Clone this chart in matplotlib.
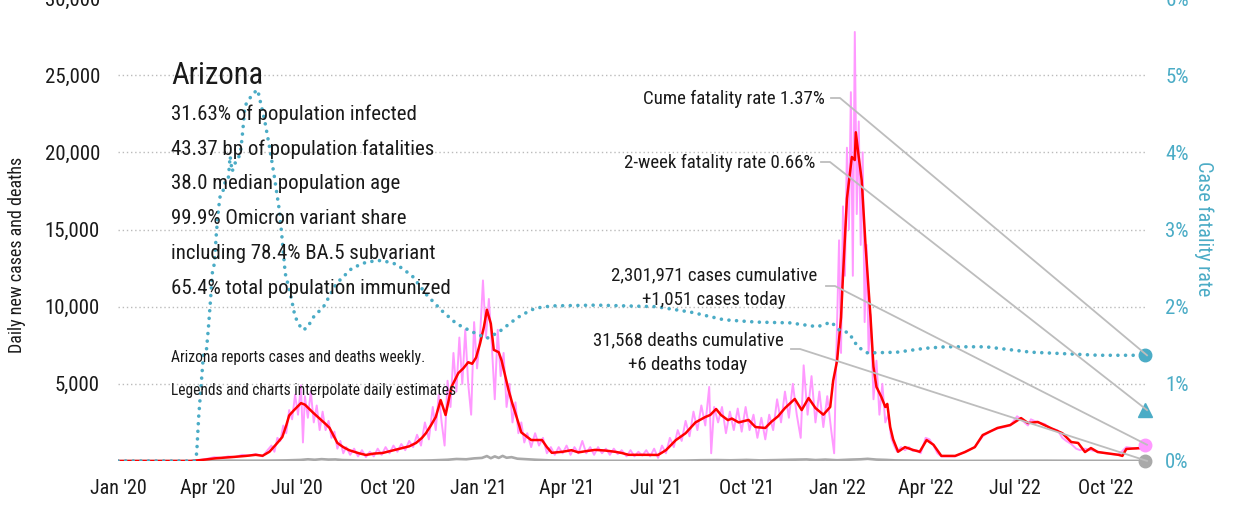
import matplotlib
matplotlib.use("Agg")
import matplotlib.pyplot as plt
import pandas as pd
from matplotlib import font_manager as fm

# ---------------- data ----------------
cases_avg = [("2020-01-01",0),("2020-03-15",0),("2020-03-25",60),("2020-04-10",180),("2020-04-25",250),
    ("2020-05-10",330),("2020-05-20",400),("2020-05-27",340),("2020-06-03",600),("2020-06-10",1100),
    ("2020-06-16",1550),("2020-06-20",2300),("2020-06-23",2950),("2020-06-28",3300),("2020-07-05",3750),
    ("2020-07-09",3650),("2020-07-13",3400),("2020-07-17",3150),("2020-07-24",2750),("2020-07-30",2400),
    ("2020-08-03",2150),("2020-08-11",1170),("2020-08-17",900),("2020-08-23",700),("2020-09-02",500),
    ("2020-09-09",390),("2020-09-17",480),("2020-09-26",520),("2020-10-06",680),("2020-10-16",840),
    ("2020-10-23",950),("2020-10-30",1170),("2020-11-05",1500),("2020-11-09",1800),("2020-11-14",2300),
    ("2020-11-19",2850),("2020-11-24",3950),("2020-11-29",2980),("2020-12-05",4800),("2020-12-12",5700),
    ("2020-12-17",6000),("2020-12-22",6400),("2020-12-26",6300),("2020-12-30",6700),("2021-01-03",7600),
    ("2021-01-07",8700),("2021-01-10",9800),("2021-01-14",8900),("2021-01-17",7200),("2021-01-22",7050),
    ("2021-01-25",6500),("2021-02-01",4600),("2021-02-05",3700),("2021-02-08",3100),("2021-02-14",1850),
    ("2021-02-24",1360),("2021-03-07",1360),("2021-03-12",900),("2021-03-17",530),("2021-03-28",600),
    ("2021-04-06",700),("2021-04-13",560),("2021-04-22",650),("2021-04-30",720),("2021-05-10",680),
    ("2021-05-20",600),("2021-05-27",520),("2021-06-03",400),("2021-06-20",400),("2021-07-03",390),
    ("2021-07-11",700),("2021-07-21",1350),("2021-07-31",1800),("2021-08-10",2500),("2021-08-20",2850),
    ("2021-08-25",2980),("2021-08-31",3370),("2021-09-05",2980),("2021-09-12",2650),("2021-09-16",2750),
    ("2021-09-23",2500),("2021-10-03",2660),("2021-10-10",2200),("2021-10-20",2140),("2021-10-26",2530),
    ("2021-11-02",2900),("2021-11-09",3430),("2021-11-19",4020),("2021-11-26",3300),("2021-12-03",4080),
    ("2021-12-10",3430),("2021-12-18",3000),("2021-12-25",3500),("2021-12-28",5200),("2022-01-01",6500),
    ("2022-01-05",9300),("2022-01-07",12000),("2022-01-11",17000),("2022-01-16",19700),("2022-01-19",19500),
    ("2022-01-20",21300),("2022-01-23",19700),("2022-01-26",18200),("2022-01-30",13900),("2022-02-04",9300),
    ("2022-02-07",6100),("2022-02-10",4800),("2022-02-15",4150),("2022-02-19",3500),("2022-02-21",3700),
    ("2022-02-24",2200),("2022-02-27",1400),("2022-03-04",600),("2022-03-11",900),("2022-03-19",720),
    ("2022-03-26",600),("2022-04-02",1360),("2022-04-09",1050),("2022-04-17",330),("2022-05-01",330),
    ("2022-05-11",580),("2022-05-21",900),("2022-05-29",1680),("2022-06-13",2140),("2022-06-26",2330),
    ("2022-07-07",2780),("2022-07-14",2460),("2022-07-24",2530),("2022-08-06",2140),("2022-08-18",1800),
    ("2022-08-27",1230),("2022-09-03",1170),("2022-09-10",580),("2022-09-16",840),("2022-09-23",580),
    ("2022-10-14",400),("2022-10-18",330),("2022-10-22",780),("2022-11-06",840),("2022-11-10",1051)]

cases_raw = [("2020-01-01",0),("2020-03-15",0),("2020-03-25",80),("2020-04-01",150),("2020-04-08",250),
    ("2020-04-15",200),("2020-04-22",300),("2020-04-29",250),("2020-05-06",400),("2020-05-13",350),
    ("2020-05-20",450),("2020-05-27",300),("2020-06-01",700),("2020-06-05",1000),("2020-06-08",600),
    ("2020-06-11",1500),("2020-06-14",1300),("2020-06-17",2300),("2020-06-20",1800),("2020-06-23",3300),
    ("2020-06-26",2700),("2020-06-29",4300),("2020-07-02",3000),("2020-07-05",4900),("2020-07-07",1200),
    ("2020-07-09",4200),("2020-07-12",2800),("2020-07-15",4500),("2020-07-18",2500),("2020-07-21",3600),
    ("2020-07-24",2000),("2020-07-27",3200),("2020-07-30",2000),("2020-08-02",2600),("2020-08-05",1500),
    ("2020-08-08",1900),("2020-08-11",800),("2020-08-14",1300),("2020-08-17",500),("2020-08-20",900),
    ("2020-08-24",400),("2020-08-28",800),("2020-09-01",300),("2020-09-05",700),("2020-09-09",250),
    ("2020-09-13",600),("2020-09-17",300),("2020-09-21",800),("2020-09-25",400),("2020-09-29",900),
    ("2020-10-03",500),("2020-10-07",1000),("2020-10-11",600),("2020-10-15",1100),("2020-10-19",700),
    ("2020-10-23",1300),("2020-10-27",900),("2020-10-31",1700),("2020-11-04",1000),("2020-11-08",2500),
    ("2020-11-12",1400),("2020-11-16",3500),("2020-11-19",2000),("2020-11-22",4300),("2020-11-25",2500),
    ("2020-11-28",1000),("2020-12-01",5200),("2020-12-04",3500),("2020-12-07",7000),("2020-12-10",4500),
    ("2020-12-13",8000),("2020-12-16",5000),("2020-12-19",8500),("2020-12-22",5000),("2020-12-25",3000),
    ("2020-12-28",9000),("2020-12-31",6000),("2021-01-03",8000),("2021-01-06",11700),("2021-01-09",8000),
    ("2021-01-12",10500),("2021-01-15",7500),("2021-01-18",4000),("2021-01-21",8500),("2021-01-24",5500),
    ("2021-01-27",7000),("2021-01-30",3500),("2021-02-02",5000),("2021-02-05",2500),("2021-02-08",3800),
    ("2021-02-11",1800),("2021-02-14",2500),("2021-02-17",1200),("2021-02-20",1800),("2021-02-24",900),
    ("2021-02-28",1800),("2021-03-04",1000),("2021-03-08",1500),("2021-03-12",500),("2021-03-16",900),
    ("2021-03-20",400),("2021-03-24",900),("2021-03-28",500),("2021-04-01",1000),("2021-04-05",400),
    ("2021-04-09",900),("2021-04-13",500),("2021-04-17",1300),("2021-04-21",500),("2021-04-25",900),
    ("2021-04-29",400),("2021-05-03",900),("2021-05-07",500),("2021-05-11",800),("2021-05-15",400),
    ("2021-05-19",800),("2021-05-23",450),("2021-05-27",700),("2021-06-01",300),("2021-06-05",700),
    ("2021-06-09",300),("2021-06-13",600),("2021-06-17",350),("2021-06-21",700),("2021-06-25",300),
    ("2021-06-29",800),("2021-07-03",200),("2021-07-07",1000),("2021-07-11",500),("2021-07-15",1500),
    ("2021-07-19",900),("2021-07-23",2000),("2021-07-27",1300),("2021-07-31",2600),("2021-08-04",1600),
    ("2021-08-08",3200),("2021-08-12",2000),("2021-08-16",3600),("2021-08-20",2300),("2021-08-24",4800),
    ("2021-08-26",500),("2021-08-29",3500),("2021-09-02",2500),("2021-09-06",3500),("2021-09-10",1800),
    ("2021-09-14",3200),("2021-09-18",2000),("2021-09-22",3400),("2021-09-26",1900),("2021-09-30",3500),
    ("2021-10-04",2000),("2021-10-08",3000),("2021-10-12",1500),("2021-10-16",2800),("2021-10-20",1400),
    ("2021-10-24",3000),("2021-10-28",2000),("2021-11-01",4000),("2021-11-05",2500),("2021-11-09",4500),
    ("2021-11-13",2800),("2021-11-17",5000),("2021-11-21",3000),("2021-11-25",1500),("2021-11-28",6200),
    ("2021-12-02",3000),("2021-12-06",5500),("2021-12-10",2500),("2021-12-14",4500),("2021-12-18",2200),
    ("2021-12-22",4200),("2021-12-26",2000),("2021-12-29",500),("2022-01-01",9000),("2022-01-03",14300),
    ("2022-01-05",7000),("2022-01-07",16500),("2022-01-09",12000),("2022-01-11",20300),("2022-01-13",15000),
    ("2022-01-15",23900),("2022-01-17",12000),("2022-01-19",27800),("2022-01-21",16000),("2022-01-23",22000),
    ("2022-01-25",14000),("2022-01-27",20000),("2022-01-29",9000),("2022-01-31",14000),("2022-02-02",7000),
    ("2022-02-04",9500),("2022-02-07",4000),("2022-02-10",6500),("2022-02-13",3000),("2022-02-16",5000),
    ("2022-02-19",2500),("2022-02-22",3000),("2022-02-25",1500),("2022-02-28",1000),("2022-03-03",600),
    ("2022-03-07",900),("2022-03-11",700),("2022-03-15",900),("2022-03-19",650),("2022-03-23",700),
    ("2022-03-27",500),("2022-04-01",1500),("2022-04-05",1400),("2022-04-09",1000),("2022-04-13",500),
    ("2022-04-17",300),("2022-05-01",300),("2022-05-11",600),("2022-05-21",900),("2022-05-29",1600),
    ("2022-06-05",1900),("2022-06-13",2100),("2022-06-20",2200),("2022-06-26",2300),("2022-07-03",2900),
    ("2022-07-07",2700),("2022-07-14",2300),("2022-07-17",2700),("2022-07-24",2500),("2022-07-31",2400),
    ("2022-08-06",2100),("2022-08-13",2000),("2022-08-18",1500),("2022-08-22",1300),("2022-08-27",1100),
    ("2022-09-01",800),("2022-09-05",700),("2022-09-10",800),("2022-09-16",700),("2022-09-23",600),
    ("2022-10-01",500),("2022-10-14",400),("2022-10-22",900),("2022-11-01",800),("2022-11-06",850),
    ("2022-11-10",1051)]

deaths = [("2020-01-01",0),("2020-03-20",0),("2020-04-05",15),("2020-04-20",25),("2020-05-10",20),
    ("2020-06-01",25),("2020-06-20",40),("2020-07-05",70),("2020-07-12",110),("2020-07-19",80),
    ("2020-07-26",120),("2020-08-02",90),("2020-08-09",100),("2020-08-16",60),("2020-08-23",50),
    ("2020-09-01",30),("2020-09-15",20),("2020-10-01",15),("2020-10-15",20),("2020-11-01",25),
    ("2020-11-15",40),("2020-12-01",80),("2020-12-10",130),("2020-12-20",110),("2020-12-28",170),
    ("2021-01-05",200),("2021-01-10",320),("2021-01-14",180),("2021-01-18",300),("2021-01-22",200),
    ("2021-01-26",330),("2021-01-30",210),("2021-02-04",250),("2021-02-10",150),("2021-02-18",120),
    ("2021-03-01",80),("2021-03-15",40),("2021-04-01",20),("2021-05-01",15),("2021-06-01",12),
    ("2021-07-01",15),("2021-08-01",30),("2021-08-15",50),("2021-09-01",60),("2021-09-15",45),
    ("2021-10-01",70),("2021-10-15",40),("2021-11-01",60),("2021-11-15",80),("2021-12-01",100),
    ("2021-12-10",60),("2021-12-20",90),("2022-01-01",50),("2022-01-15",90),("2022-01-25",110),
    ("2022-02-01",140),("2022-02-10",90),("2022-02-20",70),("2022-03-01",40),("2022-03-15",30),
    ("2022-04-01",15),("2022-05-01",8),("2022-06-01",10),("2022-07-01",15),("2022-08-01",20),
    ("2022-09-01",15),("2022-10-01",10),("2022-11-10",6)]

fatality_rate = [("2020-01-01",0),("2020-03-19",0),("2020-03-21",0.1),("2020-03-23",0.57),("2020-03-28",1.40),
    ("2020-03-31",1.45),("2020-04-02",1.74),("2020-04-04",2.08),("2020-04-06",2.45),("2020-04-08",2.56),
    ("2020-04-10",2.95),("2020-04-12",3.25),("2020-04-14",3.45),("2020-04-17",3.51),("2020-04-19",3.62),
    ("2020-04-22",3.64),("2020-04-24",3.95),("2020-04-26",3.75),("2020-04-29",3.86),("2020-05-02",3.90),
    ("2020-05-05",4.05),("2020-05-07",4.30),("2020-05-09",4.60),("2020-05-15",4.72),("2020-05-19",4.78),
    ("2020-05-22",4.81),("2020-05-25",4.64),("2020-05-29",4.42),("2020-06-03",4.07),("2020-06-08",3.68),
    ("2020-06-13",3.25),("2020-06-16",2.86),("2020-06-19",2.43),("2020-06-24",2.18),("2020-06-29",1.87),
    ("2020-07-06",1.70),("2020-07-11",1.72),("2020-07-18",1.87),("2020-07-28",2.0),("2020-08-10",2.3),
    ("2020-08-26",2.5),("2020-09-10",2.58),("2020-09-25",2.60),("2020-10-10",2.55),("2020-10-26",2.40),
    ("2020-11-10",2.15),("2020-11-25",1.95),("2020-12-10",1.78),("2020-12-25",1.68),("2021-01-10",1.59),
    ("2021-01-22",1.67),("2021-02-04",1.80),("2021-02-14",1.89),("2021-02-28",1.98),("2021-03-17",2.01),
    ("2021-05-01",2.02),("2021-07-01",2.00),("2021-08-05",1.93),("2021-09-08",1.83),("2021-10-11",1.80),
    ("2021-11-14",1.79),("2021-12-12",1.74),("2021-12-26",1.80),("2022-01-03",1.70),("2022-01-13",1.66),
    ("2022-01-22",1.48),("2022-02-01",1.40),("2022-03-03",1.41),("2022-03-31",1.46),("2022-04-21",1.48),
    ("2022-06-01",1.48),("2022-07-17",1.41),("2022-08-21",1.39),("2022-09-24",1.37),("2022-11-10",1.37)]

last_date = "2022-11-10"
cume_rate = 1.37
two_week_rate = 0.66
cases_today = 1051
deaths_today = 6

title = "Arizona"
stats_lines = ["31.63% of population infected", "43.37 bp of population fatalities",
               "38.0 median population age", "99.9% Omicron variant share",
               "including 78.4% BA.5 subvariant", "65.4% total population immunized"]
note_lines = ["Arizona reports cases and deaths weekly.",
              "Legends and charts interpolate daily estimates"]
left_ticks = [5000, 10000, 15000, 20000, 25000, 30000]
right_ticks = [0, 1, 2, 3, 4, 5, 6]
x_tick_dates = ["2020-01-01","2020-04-01","2020-07-01","2020-10-01","2021-01-01","2021-04-01",
                "2021-07-01","2021-10-01","2022-01-01","2022-04-01","2022-07-01","2022-10-01"]
x_tick_labels = ["Jan '20","Apr '20","Jul '20","Oct '20","Jan '21","Apr '21",
                 "Jul '21","Oct '21","Jan '22","Apr '22","Jul '22","Oct '22"]

# ---------------- style ----------------
avail = {f.name for f in fm.fontManager.ttflist}
FONT = "DejaVu Sans"
for cand in ["Liberation Sans Narrow", "Roboto Condensed", "DejaVu Sans Condensed", "Liberation Sans"]:
    if cand in avail:
        FONT = cand
        break
plt.rcParams["font.family"] = [FONT, "DejaVu Sans"]

PINK = "#FF99FF"
RED = "#FF0000"
GRAY = "#A9A9A9"
TEAL = "#4BACC6"
TXT = "#1a1a1a"
LEAD = "#BDBDBD"

def series(pairs):
    d = pd.to_datetime([p[0] for p in pairs])
    v = [p[1] for p in pairs]
    return d, v

W, H = 1233, 508
fig = plt.figure(figsize=(W / 100, H / 100), dpi=100)
ax = fig.add_axes([118 / W, 47 / H, 1027 / W, 463 / H])
ax2 = ax.twinx()

x0 = pd.Timestamp("2020-01-01")
x1 = pd.Timestamp(last_date)
ax.set_xlim(x0, x1)
ax.set_ylim(0, 30000)
ax2.set_ylim(0, 6)

for s in list(ax.spines.values()) + list(ax2.spines.values()):
    s.set_visible(False)

for t in left_ticks:
    ax.axhline(t, color="#BBBBBB", lw=1.0, ls=(0, (1, 2)), zorder=0)

d, v = series(cases_raw)
ax.plot(d, v, color=PINK, lw=1.4, zorder=2)
d, v = series(deaths)
ax.plot(d, v, color=GRAY, lw=1.9, zorder=2)
d, v = series(cases_avg)
ax.plot(d, v, color=RED, lw=1.8, zorder=3)

d, v = series(fatality_rate)
ax2.plot(d, v, color=TEAL, lw=2.6, ls=(0, (0.01, 2.1)), dash_capstyle="round", zorder=3)

# end markers
ax2.plot([x1], [cume_rate], "o", color=TEAL, ms=9, clip_on=False, zorder=5)
ax2.plot([x1], [two_week_rate], "^", color=TEAL, ms=10, clip_on=False, zorder=5)
ax.plot([x1], [cases_today], "o", color=PINK, ms=9, clip_on=False, zorder=5)
ax.plot([x1], [deaths_today], "o", color=GRAY, ms=9, clip_on=False, zorder=5)

# ticks
ax.set_yticks(left_ticks)
ax.set_yticklabels([f"{t:,}" for t in left_ticks])
ax.tick_params(axis="y", length=0, pad=13, labelsize=15, labelcolor=TXT)
ax2.set_yticks(right_ticks)
ax2.set_yticklabels([f"{t}%" for t in right_ticks])
ax2.tick_params(axis="y", length=0, pad=14.5, labelsize=15, labelcolor=TEAL)
ax.set_xticks(pd.to_datetime(x_tick_dates))
ax.set_xticklabels(x_tick_labels)
ax.tick_params(axis="x", length=0, pad=13, labelsize=14.5, labelcolor=TXT)

def fx(px):
    return px / W

def fy(py):
    return 1 - py / H

fig.text(fx(17), fy(255), "Daily new cases and deaths", rotation=90, ha="center", va="center",
         fontsize=13, color=TXT)
fig.text(fx(1204), fy(229), "Case fatality rate", rotation=270, ha="center", va="center",
         fontsize=14.5, color=TEAL)

# info block
fig.text(fx(171), fy(84), title, fontsize=22, color=TXT, ha="left", va="baseline")
for i, line in enumerate(stats_lines):
    fig.text(fx(171), fy(120 + 34.7 * i), line, fontsize=15, color=TXT, ha="left", va="baseline")
for i, line in enumerate(note_lines):
    fig.text(fx(171), fy(362 + 33 * i), line, fontsize=11.2, color=TXT, ha="left", va="baseline")

# annotations with leader lines
def leader(px_from, py_from, px_end, py_end):
    fig.add_artist(plt.Line2D([fx(px_from), fx(px_from + 9), fx(px_end)],
                              [fy(py_from), fy(py_from), fy(py_end)],
                              color=LEAD, lw=1.3, zorder=1))

def y_of(val, right=False):
    return 461 - (val / 6 * 463 if right else val / 30000 * 463)

ANN = 13.6
fig.text(fx(825), fy(99), f"Cume fatality rate {cume_rate:.2f}%", fontsize=ANN, color=TXT,
         ha="right", va="center")
leader(831, 98, 1147, y_of(cume_rate, True))
fig.text(fx(815), fy(163), f"2-week fatality rate {two_week_rate:.2f}%", fontsize=ANN, color=TXT,
         ha="right", va="center")
leader(821, 162, 1147, y_of(two_week_rate, True))
fig.text(fx(714), fy(275), "2,301,971 cases cumulative", fontsize=ANN, color=TXT, ha="center", va="center")
fig.text(fx(714), fy(300), f"+{cases_today:,} cases today", fontsize=ANN, color=TXT, ha="center", va="center")
leader(826, 286, 1147, y_of(cases_today))
fig.text(fx(688), fy(340), "31,568 deaths cumulative", fontsize=ANN, color=TXT, ha="center", va="center")
fig.text(fx(688), fy(365), f"+{deaths_today} deaths today", fontsize=ANN, color=TXT, ha="center", va="center")
leader(791, 349, 1147, y_of(deaths_today))

fig.savefig("out.png", dpi=100)
